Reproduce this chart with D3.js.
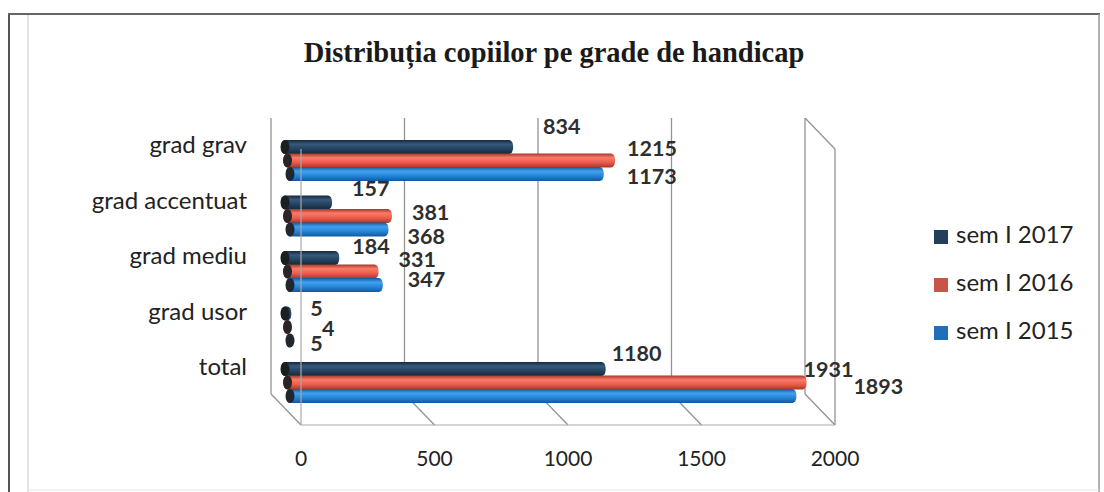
<!DOCTYPE html>
<html>
<head>
<meta charset="utf-8">
<script src="https://cdn.jsdelivr.net/npm/d3@7"></script>
<style>
body{margin:0;background:#fff}
svg{display:block}
</style>
</head>
<body>
<svg id="chart" width="1104" height="492"></svg>
<script>
var categories=["grad grav","grad accentuat","grad mediu","grad usor","total"]
var seriesNames=["sem I 2017","sem I 2016","sem I 2015"]
var sem2017=[834,157,184,5,1180]
var sem2016=[1215,381,331,4,1931]
var sem2015=[1173,368,347,5,1893]
var xTicks=[0,500,1000,1500,2000]
// excel put the data labels a bit everywhere, so [dx,dy] per label from bar end
var nudge2017=[[30,-19],[20,-12],[13,-10],[19,-3],[6,-14]]
var nudge2016=[[12,-10],[20,-2],[20,-10],[31,3],[-3,-11]]
var nudge2015=[[23,4],[19,9],[25,-4],[19,5],[57,-8]]

var allSeries=[sem2017,sem2016,sem2015]
var allNudges=[nudge2017,nudge2016,nudge2015]
var colors=[
	{edge:"#15283b",light:"#36597c",base:"#24415f",cap:"#1b1f24",legend:"#243f5c"},
	{edge:"#a5362b",light:"#f87c69",base:"#ec5b49",cap:"#2a2426",legend:"#c9544a"},
	{edge:"#14579a",light:"#41a0ef",base:"#2583d5",cap:"#22272d",legend:"#1f70b9"}
]

var svg=d3.select("#chart")
var depth={dx:30,dy:31}

// back wall scale and front scale (3d box)
var xBack=d3.scaleLinear().domain([0,2000]).range([271,805])
var xFront=d3.scaleLinear().domain([0,2000]).range([271+depth.dx,805+depth.dx])
var xBar=d3.scaleLinear().domain([0,2000]).range([290,825])
var yGroup=d3.scaleBand().domain(categories).range([140,140+55.5*categories.length]).paddingInner(0).paddingOuter(0)
var backTop=118,backBottom=394
var barH=14,barStep=13.5

// frame of the page
svg.append("line").attr("x1",9).attr("x2",9).attr("y1",13).attr("y2",492).attr("stroke","#555").attr("stroke-width",2)
svg.append("line").attr("x1",8).attr("x2",1100).attr("y1",14).attr("y2",14).attr("stroke","#666").attr("stroke-width",2)
svg.append("line").attr("x1",1099).attr("x2",1099).attr("y1",14).attr("y2",492).attr("stroke","#999").attr("stroke-width",1.5)
svg.append("line").attr("x1",28).attr("x2",28).attr("y1",15).attr("y2",492).attr("stroke","#c8c8c8").attr("stroke-width",1)
svg.append("line").attr("x1",28).attr("x2",1099).attr("y1",490).attr("y2",490).attr("stroke","#e4e4e4").attr("stroke-width",1)

svg.append("text")
	.attr("x",554).attr("y",55)
	.attr("text-anchor","middle").attr("dominant-baseline","middle")
	.attr("font-family","'Liberation Serif', 'DejaVu Serif', serif")
	.attr("font-weight","bold").attr("font-size","28.5px").attr("fill","#1a1a1a")
	.text("Distribuția copiilor pe grade de handicap")

var grid=svg.append("g").attr("stroke","#939393").attr("stroke-width",1.3).attr("fill","none")
grid.selectAll(".back").data(xTicks).enter().append("line")
	.attr("x1",d=>xBack(d)).attr("x2",d=>xBack(d)).attr("y1",backTop).attr("y2",backBottom)
grid.selectAll(".floor").data(xTicks).enter().append("line")
	.attr("x1",d=>xBack(d)).attr("y1",backBottom).attr("x2",d=>xFront(d)).attr("y2",backBottom+depth.dy)
grid.append("line").attr("x1",xBack(2000)).attr("y1",backTop).attr("x2",xFront(2000)).attr("y2",backTop+depth.dy)
grid.append("line").attr("x1",xFront(2000)).attr("y1",backTop+depth.dy).attr("x2",xFront(2000)).attr("y2",backBottom+depth.dy)

// gradients
var defs=svg.append("defs")
colors.forEach(function(c,i){
	var g=defs.append("linearGradient").attr("id","grad"+i).attr("x1",0).attr("y1",0).attr("x2",0).attr("y2",1)
	g.append("stop").attr("offset","0%").attr("stop-color",c.edge)
	g.append("stop").attr("offset","30%").attr("stop-color",c.light)
	g.append("stop").attr("offset","65%").attr("stop-color",c.base)
	g.append("stop").attr("offset","100%").attr("stop-color",c.edge)
})

var bars=svg.append("g")
categories.forEach(function(cat,ci){
	allSeries.forEach(function(ser,si){
		var y0=yGroup(cat)+si*barStep
		var x0=281+si*2.5
		var xe=xBar(ser[ci])
		bars.append("rect")
			.attr("x",x0).attr("y",y0)
			.attr("width",Math.max(xe-x0,6)).attr("height",barH)
			.attr("rx",4).attr("ry",6)
			.attr("fill","url(#grad"+si+")")
		bars.append("ellipse")
			.attr("cx",x0+4).attr("cy",y0+barH/2)
			.attr("rx",4.5).attr("ry",barH/2)
			.attr("fill",colors[si].cap)
	})
})

// front edges over the bars
var front=svg.append("g").attr("stroke","#a8a8a8").attr("stroke-width",1.2)
front.append("line").attr("x1",xFront(0)).attr("x2",xFront(0)).attr("y1",backTop+depth.dy).attr("y2",backBottom+depth.dy)
front.append("line").attr("x1",xFront(0)).attr("x2",xFront(2000)).attr("y1",backBottom+depth.dy).attr("y2",backBottom+depth.dy)

// data labels
var labels=svg.append("g")
	.attr("font-family","Lato, 'Open Sans', sans-serif").attr("font-weight","bold")
	.attr("font-size","21.5px").attr("fill","#2e2e2e")
categories.forEach(function(cat,ci){
	allSeries.forEach(function(ser,si){
		var yc=yGroup(cat)+si*barStep+barH/2
		var n=allNudges[si][ci]
		labels.append("text")
			.attr("x",xBar(ser[ci])+n[0]).attr("y",yc+n[1])
			.attr("dominant-baseline","middle")
			.text(ser[ci])
	})
})

// category axis
svg.append("g").selectAll("text").data(categories).enter().append("text")
	.attr("x",247).attr("y",d=>yGroup(d)+7)
	.attr("text-anchor","end").attr("dominant-baseline","middle")
	.attr("font-family","Lato, 'Open Sans', sans-serif").attr("font-size","24px").attr("fill","#222")
	.text(d=>d)

// value axis under the floor
svg.append("g").selectAll("text").data(xTicks).enter().append("text")
	.attr("x",d=>xFront(d)).attr("y",461)
	.attr("text-anchor","middle").attr("dominant-baseline","middle")
	.attr("font-family","Lato, 'Open Sans', sans-serif").attr("font-size","21px").attr("fill","#222")
	.text(d=>d)

// legend
var leg=svg.append("g").selectAll("g").data(seriesNames).enter().append("g")
	.attr("transform",(d,i)=>"translate(934,"+(237+i*48)+")")
leg.append("rect").attr("x",0).attr("y",-7).attr("width",14).attr("height",14).attr("fill",(d,i)=>colors[i].legend)
leg.append("text").attr("x",22).attr("y",0).attr("dominant-baseline","middle")
	.attr("font-family","Lato, 'Open Sans', sans-serif").attr("font-size","24px").attr("fill","#222")
	.text(d=>d)
</script>
</body>
</html>
